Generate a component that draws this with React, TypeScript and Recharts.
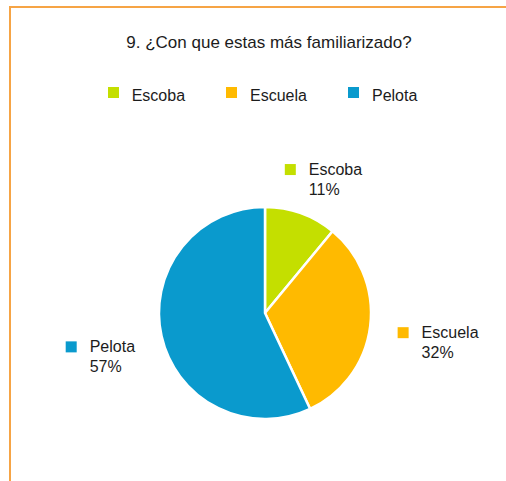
import React from 'react';
import { PieChart, Pie, Cell, Legend } from 'recharts';

const title = '9. ¿Con que estas más familiarizado?';
const categories = ['Escoba', 'Escuela', 'Pelota'];
const values = [11, 32, 57];
const colors = ['#C4DF00', '#FFBA00', '#0A9ACD'];

const data = categories.map((name, i) => ({ name, value: values[i] }));

const FONT = "'Liberation Sans', Arial, sans-serif";
const TEXT = '#1c1c1c';

let ctx: CanvasRenderingContext2D | null = null;
function measure(s: string): number {
  if (!ctx && typeof document !== 'undefined') {
    ctx = document.createElement('canvas').getContext('2d');
  }
  if (!ctx) return s.length * 8.5;
  ctx.font = `16px ${FONT}`;
  return ctx.measureText(s).width;
}

const RAD = Math.PI / 180;

const renderLabel = (props: any) => {
  const { cx, cy, midAngle, outerRadius, name, value, index } = props;
  const pct = `${value}%`;
  const r = outerRadius + 28;
  const c = Math.cos(-midAngle * RAD);
  const s = Math.sin(-midAngle * RAD);
  const px = cx + r * c;
  const py = cy + r * s;
  const w = 11 + 13 + Math.max(measure(name), measure(pct));
  const h = 38;
  const bx = px + (c * w) / 2;
  const by = py + (s * h) / 2 + 12;
  const left = bx - w / 2;
  const top = by - h / 2;
  return (
    <g key={`lbl-${index}`}>
      <rect x={left} y={top + 2} width={11} height={11} fill={colors[index]} />
      <text x={left + 24} y={top + 13} fontSize={16} fontFamily={FONT} fill={TEXT}>
        {name}
      </text>
      <text x={left + 24} y={top + 33} fontSize={16} fontFamily={FONT} fill={TEXT}>
        {pct}
      </text>
    </g>
  );
};

const renderLegend = (props: any) => {
  const payload = props.payload || [];
  return (
    <div
      style={{
        display: 'flex',
        justifyContent: 'center',
        alignItems: 'flex-start',
        paddingLeft: 19,
        gap: 41,
        fontFamily: FONT,
        fontSize: 16,
        lineHeight: '18px',
        color: TEXT,
      }}
    >
      {payload.map((p: any, i: number) => (
        <div key={i} style={{ display: 'flex', alignItems: 'flex-start' }}>
          <div style={{ width: 11, height: 11, background: p.color, marginRight: 13, marginTop: 0 }} />
          <span>{p.value}</span>
        </div>
      ))}
    </div>
  );
};

export default function App() {
  return (
    <div style={{ position: 'absolute', left: 0, top: 0, width: 506, height: 481, background: '#fff', overflow: 'hidden' }}>
      <div
        style={{
          position: 'absolute',
          left: 9,
          top: 6,
          right: -4,
          bottom: -4,
          borderTop: '2px solid #F6A445',
          borderLeft: '2px solid #F6A445',
        }}
      />
      <div
        style={{
          position: 'absolute',
          left: 19,
          top: 33,
          width: 500,
          textAlign: 'center',
          fontFamily: FONT,
          fontSize: 17,
          lineHeight: '19px',
          color: TEXT,
          whiteSpace: 'nowrap',
        }}
      >
        {title}
      </div>
      <div style={{ position: 'absolute', left: 0, top: 0 }}>
        <PieChart width={506} height={481} margin={{ top: 0, right: 0, bottom: 0, left: 0 }}>
          <Legend
            content={renderLegend}
            verticalAlign="bottom"
            wrapperStyle={{ position: 'absolute', top: 87, left: 0, width: 506, bottom: 'auto' }}
          />
          <Pie
            data={data}
            dataKey="value"
            nameKey="name"
            cx={265}
            cy={313}
            outerRadius={106}
            startAngle={90}
            endAngle={-270}
            stroke="#ffffff"
            strokeWidth={2.5}
            label={renderLabel}
            labelLine={false}
            isAnimationActive={false}
          >
            {data.map((d, i) => (
              <Cell key={d.name} fill={colors[i]} />
            ))}
          </Pie>
        </PieChart>
      </div>
    </div>
  );
}
